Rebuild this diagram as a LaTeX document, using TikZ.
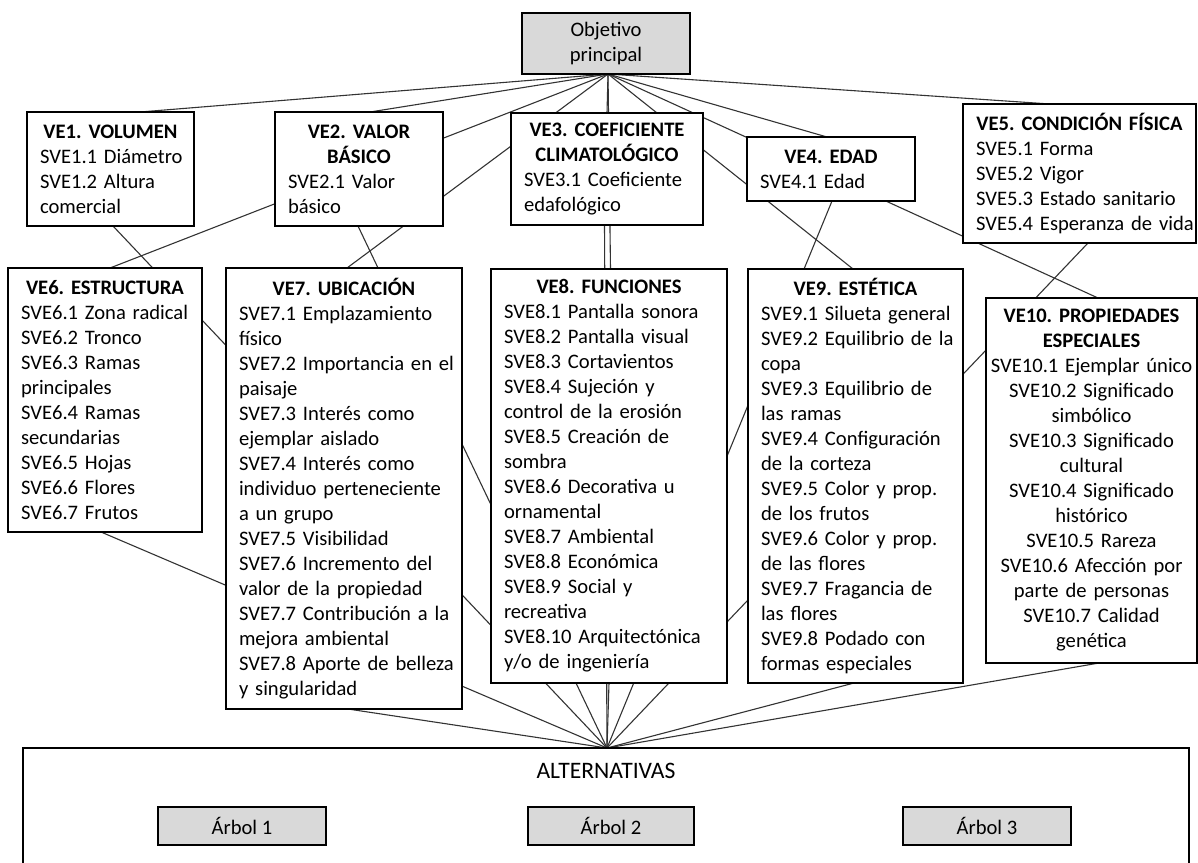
\documentclass[tikz,border=0pt]{standalone}
\usepackage{fontspec}
\setmainfont{Carlito}
\usetikzlibrary{calc}
\setlength\parindent{0pt}
\setlength\parskip{0pt}
\frenchspacing
\pgfdeclarelayer{bg}
\pgfsetlayers{bg,main}

\newcommand\boxfont{\fontsize{10.3pt}{12.5pt}\selectfont}
% bold, centred heading line(s) of a criterion box
\newcommand\ttl[1]{{\leftskip=-20pt plus 1fil\rightskip=-20pt plus 1fil\parfillskip=0pt\relax\bfseries#1\par}}
% body alignments (lines are broken by hand and never rewrapped)
\newcommand\bodyleft{\leftskip=0pt\rightskip=-40pt plus 1fil\parfillskip=0pt\relax}
\newcommand\bodycenter{\leftskip=-20pt plus 1fil\rightskip=-20pt plus 1fil\parfillskip=0pt\relax}

\tikzset{
  critbox/.style={draw, line width=1pt, fill=white, inner xsep=6.5pt, inner ysep=0pt,
    outer sep=0pt, font=\boxfont,
    execute at begin node={\hyphenpenalty=10000\let\\\par}},
  greybox/.style={draw, line width=1pt, fill=black!15, inner sep=0pt, outer sep=0pt,
    font=\boxfont, align=center},
  conn/.style={draw=black!80, line width=0.55pt},
}

% criterion box: name, left, right, top, bottom (px), body alignment, heading, body
\newcommand\critnode[8]{%
  \pgfmathsetmacro\cbW{(#3-#2)*0.5}%
  \pgfmathsetmacro\cbH{(#5-#4)*0.5}%
  \pgfmathsetmacro\cbT{(#3-#2-26)*0.5}%
  \node[critbox,minimum width=\cbW pt,minimum height=\cbH pt,text width=\cbT pt]
    (#1) at ({(#2+#3)/2},{(#4+#5)/2}) {\ttl{#7}\csname body#6\endcsname #8\par};}

\begin{document}
\begin{tikzpicture}[x=0.5pt,y=-0.5pt]
\useasboundingbox (0,0) rectangle (1198,862);

% goal
\node[greybox, minimum width=84pt, minimum height=30.5pt] (obj) at (606,43.5)
  {Objetivo\\principal};

% first row of criteria
\critnode{ve1}{27}{194}{112}{226}{left}{VE1. VOLUMEN}{SVE1.1 Diámetro\\SVE1.2 Altura\\comercial}
\critnode{ve2}{275}{443}{112}{226}{left}{VE2. VALOR\\BÁSICO}{SVE2.1 Valor\\básico}
\critnode{ve3}{511}{703}{113}{225}{left}{VE3. COEFICIENTE\\CLIMATOLÓGICO}{SVE3.1 Coeficiente\\edafológico}
\critnode{ve4}{747}{915}{137}{201}{left}{VE4. EDAD}{SVE4.1 Edad}
\critnode{ve5}{963}{1196}{104}{243}{left}{VE5. CONDICIÓN FÍSICA}{SVE5.1 Forma\\SVE5.2 Vigor\\SVE5.3 Estado sanitario\\SVE5.4 Esperanza de vida}

% second row of criteria
\critnode{ve6}{8}{202}{268}{532}{left}{VE6. ESTRUCTURA}{SVE6.1 Zona radical\\SVE6.2 Tronco\\SVE6.3 Ramas\\principales\\SVE6.4 Ramas\\secundarias\\SVE6.5 Hojas\\SVE6.6 Flores\\SVE6.7 Frutos}
\critnode{ve7}{226}{462}{268}{709}{left}{VE7. UBICACIÓN}{SVE7.1 Emplazamiento\\físico\\SVE7.2 Importancia en el\\paisaje\\SVE7.3 Interés como\\ejemplar aislado\\SVE7.4 Interés como\\individuo perteneciente\\a un grupo\\SVE7.5 Visibilidad\\SVE7.6 Incremento del\\valor de la propiedad\\SVE7.7 Contribución a la\\mejora ambiental\\SVE7.8 Aporte de belleza\\y singularidad}
\critnode{ve8}{491}{727}{269}{683}{left}{VE8. FUNCIONES}{SVE8.1 Pantalla sonora\\SVE8.2 Pantalla visual\\SVE8.3 Cortavientos\\SVE8.4 Sujeción y\\control de la erosión\\SVE8.5 Creación de\\sombra\\SVE8.6 Decorativa u\\ornamental\\SVE8.7 Ambiental\\SVE8.8 Económica\\SVE8.9 Social y\\recreativa\\SVE8.10 Arquitectónica\\y/o de ingeniería}
\critnode{ve9}{748}{963}{269}{683}{left}{VE9. ESTÉTICA}{SVE9.1 Silueta general\\SVE9.2 Equilibrio de la\\copa\\SVE9.3 Equilibrio de\\las ramas\\SVE9.4 Configuración\\de la corteza\\SVE9.5 Color y prop.\\de los frutos\\SVE9.6 Color y prop.\\de las flores\\SVE9.7 Fragancia de\\las flores\\SVE9.8 Podado con\\formas especiales}
\critnode{ve10}{986}{1197}{298}{663}{center}{VE10. PROPIEDADES\\ESPECIALES}{SVE10.1 Ejemplar único\\SVE10.2 Significado\\simbólico\\SVE10.3 Significado\\cultural\\SVE10.4 Significado\\histórico\\SVE10.5 Rareza\\SVE10.6 Afección por\\parte de personas\\SVE10.7 Calidad\\genética}

% alternatives
\node[draw, line width=1pt, inner sep=0pt, outer sep=0pt, minimum width=583pt, minimum height=76pt]
  (alt) at (606,824) {};
\node[font=\fontsize{11.8pt}{14pt}\selectfont, inner sep=0pt] (altlbl) at (606,771) {ALTERNATIVAS};
\node[greybox, minimum width=84pt, minimum height=19pt] (a1) at (242,826) {Árbol 1};
\node[greybox, minimum width=83pt, minimum height=19pt] (a2) at (611,826) {Árbol 2};
\node[greybox, minimum width=84pt, minimum height=19pt] (a3) at (987,826) {Árbol 3};

\coordinate (T) at ($(obj.south)+(2,0)$);
\coordinate (B) at ($(alt.north)+(1,0)$);

\begin{pgfonlayer}{bg}
  % goal to each criterion
  \draw[conn] (T) -- ($(ve1.north)+(29.5,0)$);
  \draw[conn] (T) -- ($(ve2.north)+(11,0)$);
  \draw[conn] (T) -- ($(ve3.north)+(0,0)$);
  \draw[conn] (T) -- ($(ve4.north)+(-4,0)$);
  \draw[conn] (T) -- ($(ve5.north)+(-29.5,0)$);
  \draw[conn] (T) -- ($(ve6.north)+(5,0)$);
  \draw[conn] (T) -- ($(ve7.north)+(3,0)$);
  \draw[conn] (T) -- ($(ve8.north)+(1.5,0)$);
  \draw[conn] (T) -- ($(ve9.north)+(-2.5,0)$);
  \draw[conn] (T) -- ($(ve10.north)+(6.5,0)$);
  % each criterion to the alternatives
  \draw[conn] ($(ve1.south)+(2.5,0)$) -- (B);
  \draw[conn] ($(ve2.south)+(-1,0)$) -- (B);
  \draw[conn] ($(ve3.south)+(-2.5,0)$) -- (B);
  \draw[conn] ($(ve4.south)+(1,0)$) -- (B);
  \draw[conn] ($(ve5.south)+(8.5,0)$) -- (B);
  \draw[conn] ($(ve6.south)+(-4,0)$) -- (B);
  \draw[conn] ($(ve7.south)+(4,0)$) -- (B);
  \draw[conn] ($(ve8.south)+(0,0)$) -- (B);
  \draw[conn] ($(ve9.south)+(-1.5,0)$) -- (B);
  \draw[conn] ($(ve10.south)+(7.5,0)$) -- (B);
\end{pgfonlayer}
\end{tikzpicture}
\end{document}
